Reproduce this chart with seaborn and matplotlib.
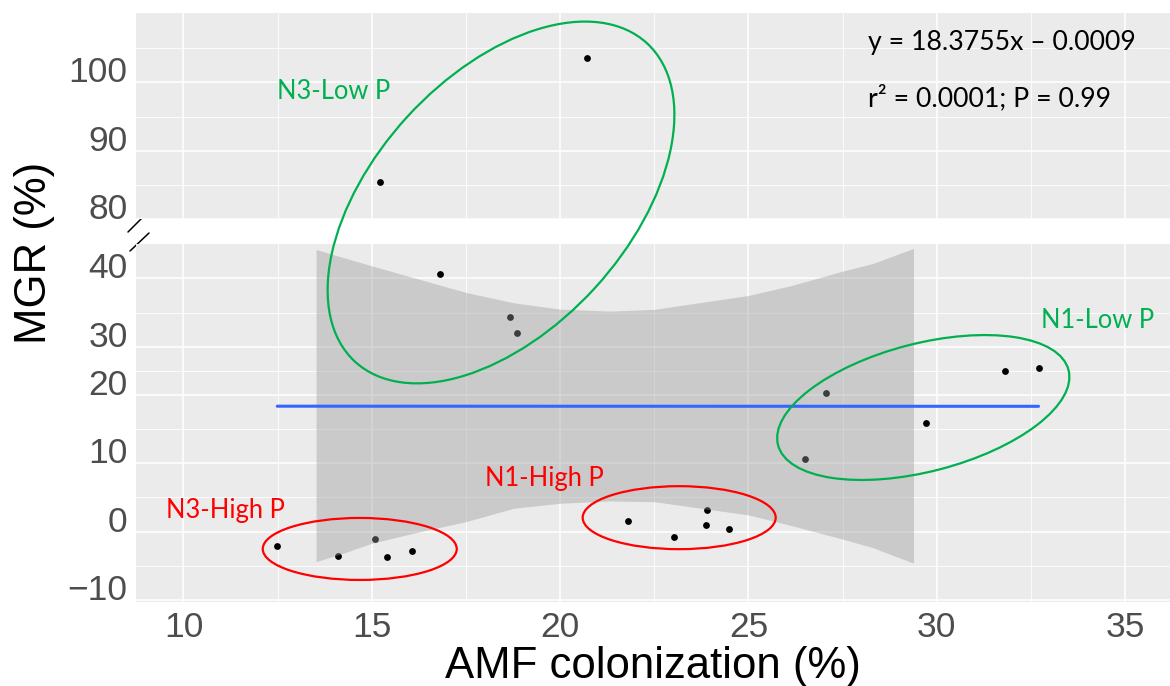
import numpy as np
import matplotlib
matplotlib.use("Agg")
import matplotlib.pyplot as plt
import matplotlib.transforms as mtransforms
from matplotlib.patches import Ellipse
from matplotlib.lines import Line2D
import seaborn as sns

# ---------------- data ----------------
groups = ["N3-High P"] * 5 + ["N1-High P"] * 5 + ["N1-Low P"] * 5 + ["N3-Low P"] * 5
amf = [12.49, 14.11, 15.09, 15.40, 16.08,
       21.81, 23.01, 23.90, 23.88, 24.49,
       27.05, 26.50, 29.72, 31.82, 32.70,
       20.70, 15.21, 16.80, 18.68, 18.85]
mgr = [-2.10, -3.61, -1.12, -3.71, -2.79,
       1.56, -0.74, 3.13, 0.93, 0.43,
       20.41, 10.68, 15.95, 25.03, 25.65,
       103.6, 85.4, 40.6, 34.4, 32.0]

fit_slope = -0.0009
fit_intercept = 18.3755

band_x = [13.52, 14.24, 15.0, 16.28, 17.5, 18.77, 20.0, 21.31, 22.5, 25.0, 26.11, 27.5, 28.3, 29.38]
band_hi = [44.24, 43.07, 41.84, 39.85, 37.95, 36.43, 35.51, 35.22, 35.47, 37.51, 38.92, 41.07, 42.19, 44.39]
band_lo = [-4.40, -3.17, -1.70, -0.01, 1.46, 3.42, 4.15, 4.49, 4.38, 2.44, 0.93, -1.10, -2.35, -4.62]

xticks = [10, 15, 20, 25, 30, 35]
yticks_low = [-10, 0, 10, 20, 30, 40]
ylabels_low = ["\u221210", "0", "10", "20", "30", "40"]
yticks_top = [80, 90, 100]
ylabels_top = ["80", "90", "100"]

eq_line1 = "y = 18.3755x \u2013 0.0009"
eq_line2 = "r\u00b2 = 0.0001; P = 0.99"

GREEN = "#00B050"
RED = "#FF0000"

# ---------------- style ----------------
sns.set_theme(style="darkgrid", rc={
    "axes.facecolor": "#EBEBEB",
    "grid.color": "white",
    "axes.edgecolor": "none",
})
plt.rcParams["font.family"] = ["Liberation Sans", "DejaVu Sans"]
plt.rcParams["axes.unicode_minus"] = True

W, H = 1170, 686
fig = plt.figure(figsize=(W / 100, H / 100), dpi=100)

left = 136 / W
width = (W - 136) / W
ax_top = fig.add_axes([left, 1 - 219 / H, width, (219 - 12.7) / H])
ax_bot = fig.add_axes([left, 1 - 601.6 / H, width, (601.6 - 244.3) / H])
ax_top.set_zorder(3)
ax_bot.set_zorder(2)

# compressed segment 20..30 on the lower panel
def fwd(v):
    return np.interp(v, [-1000, 20, 30, 1000], [-1000, 20, 27.07, 997.07])

def inv(u):
    return np.interp(u, [-1000, 20, 27.07, 997.07], [-1000, 20, 30, 1000])

ax_bot.set_yscale("function", functions=(fwd, inv))

for ax in (ax_top, ax_bot):
    sns.scatterplot(x=amf, y=mgr, ax=ax, color="black", s=24, linewidth=0,
                    zorder=2, legend=False)
    ax.set_xlim(8.74, 36.19)
    ax.set_xticks(xticks)
    ax.set_xticks([12.5, 17.5, 22.5, 27.5, 32.5], minor=True)
    ax.grid(which="major", color="white", lw=1.1)
    ax.grid(which="minor", color="white", lw=0.6)
    ax.set_axisbelow(True)
    for s in ax.spines.values():
        s.set_visible(False)
    ax.tick_params(axis="both", which="major", length=3, width=0.8,
                   color="#333333", labelsize=25.5, labelcolor="#4D4D4D", pad=3)
    ax.tick_params(axis="both", which="minor", length=0)
    ax.set_xlabel("")
    ax.set_ylabel("")

ax_top.set_ylim(80, 110.2)
ax_top.set_yticks(yticks_top, ylabels_top, va="baseline")
ax_top.set_yticks([85, 95, 105], minor=True)
ax_top.tick_params(axis="x", which="both", length=0, labelbottom=False)

ax_bot.set_ylim(-10.25, 45)
ax_bot.set_yticks(yticks_low, ylabels_low, va="baseline")
ax_bot.set_yticks([-5, 5, 15, 25, 35], minor=True)
ax_bot.tick_params(axis="x", which="major", pad=3.8)

# confidence band and fitted line
ax_bot.fill_between(band_x, band_lo, band_hi, color="#999999", alpha=0.4,
                    linewidth=0, zorder=3)
fx = np.array([min(amf), max(amf)])
ax_bot.plot(fx, fit_intercept + fit_slope * fx, color="#3366FF", lw=2.2, zorder=4)

# group ellipses (size in pixels, centred in data coords)
def add_ellipse(ax, cx, cy, w_px, h_px, angle, color):
    tr = fig.dpi_scale_trans + mtransforms.ScaledTranslation(cx, cy, ax.transData)
    e = Ellipse((0, 0), w_px / 100, h_px / 100, angle=angle, transform=tr,
                fill=False, edgecolor=color, lw=1.6, clip_on=False, zorder=6)
    ax.add_artist(e)

add_ellipse(ax_top, 18.43, 82.42, 432, 254, 47.5, GREEN)
add_ellipse(ax_bot, 29.64, 18.17, 300, 128, 14.5, GREEN)
add_ellipse(ax_bot, 23.16, 2.04, 193, 63, 0, RED)
add_ellipse(ax_bot, 14.68, -2.54, 194, 62, 0, RED)

# group labels
lab_kw = dict(fontsize=18.4, family=["Lato", "DejaVu Sans"], va="baseline", ha="left", zorder=7)
ax_top.text(12.49, 97.57, "N3-Low P", color=GREEN, **lab_kw)
ax_bot.text(32.76, 32.78, "N1-Low P", color=GREEN, **lab_kw)
ax_bot.text(18.01, 6.68, "N1-High P", color=RED, clip_on=False, **lab_kw)
ax_bot.text(9.54, 2.04, "N3-High P", color=RED, **lab_kw)

eq_kw = dict(fontsize=19.2, family=["Lato", "DejaVu Sans"], va="baseline", ha="left",
             color="black", zorder=7)
ax_top.text(28.18, 104.74, eq_line1, **eq_kw)
ax_top.text(28.18, 96.54, eq_line2, **eq_kw)

# axis break marks
for (x0, y0, x1, y1) in [(128, 232, 146, 214), (130, 251, 149, 233)]:
    fig.add_artist(Line2D([x0 / W, x1 / W], [1 - y0 / H, 1 - y1 / H],
                          color="black", lw=1.1, transform=fig.transFigure))

# axis titles
fig.text(35 / W, 1 - 252.5 / H, "MGR (%)", rotation=90, ha="center", va="center",
         fontsize=31.5, color="black")
fig.text(653 / W, 1 - 678 / H, "AMF colonization (%)", ha="center", va="baseline",
         fontsize=31.5, color="black")

fig.savefig("out.png", dpi=100, facecolor="white")
